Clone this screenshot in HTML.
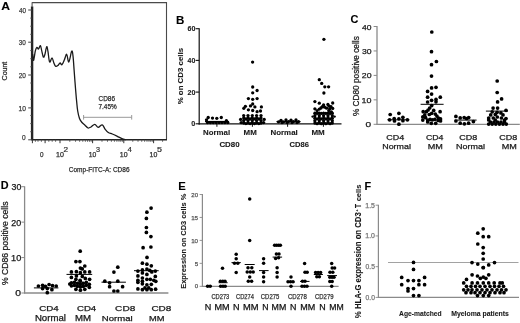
<!DOCTYPE html>
<html><head><meta charset="utf-8"><style>
html,body{margin:0;padding:0;background:#fff;}
svg{display:block;font-family:"Liberation Sans", sans-serif;will-change:transform;}
</style></head><body>
<svg width="520" height="323" viewBox="0 0 520 323">
<rect width="520" height="323" fill="#fff"/>
<text x="1.23" y="9.95" font-size="11.00" font-weight="bold" fill="#000" stroke="#000" stroke-width="0.1" textLength="8.76" lengthAdjust="spacingAndGlyphs">A</text>
<polyline points="32,2.6 166.5,2.6 166.5,139.5" fill="none" stroke="#4a4a4a" stroke-width="1.1"/>
<line x1="32.10" y1="6.50" x2="32.10" y2="140.20" stroke="#262626" stroke-width="2.4" />
<line x1="32.10" y1="2.20" x2="32.10" y2="7.00" stroke="#555" stroke-width="1.1" />
<line x1="31.50" y1="139.70" x2="167.00" y2="139.70" stroke="#222" stroke-width="1.5" />
<line x1="28.20" y1="10.00" x2="32.00" y2="10.00" stroke="#444" stroke-width="1" />
<line x1="28.20" y1="42.20" x2="32.00" y2="42.20" stroke="#444" stroke-width="1" />
<line x1="28.20" y1="75.00" x2="32.00" y2="75.00" stroke="#444" stroke-width="1" />
<line x1="28.20" y1="107.90" x2="32.00" y2="107.90" stroke="#444" stroke-width="1" />
<line x1="28.20" y1="139.80" x2="32.00" y2="139.80" stroke="#444" stroke-width="1" />
<text x="18.88" y="12.65" font-size="7.57" font-weight="normal" fill="#3a3a3a" stroke="#3a3a3a" stroke-width="0.25" textLength="7.03" lengthAdjust="spacingAndGlyphs">40</text>
<text x="18.79" y="44.85" font-size="7.57" font-weight="normal" fill="#3a3a3a" stroke="#3a3a3a" stroke-width="0.25" textLength="7.13" lengthAdjust="spacingAndGlyphs">30</text>
<text x="18.70" y="77.65" font-size="7.57" font-weight="normal" fill="#3a3a3a" stroke="#3a3a3a" stroke-width="0.25" textLength="7.22" lengthAdjust="spacingAndGlyphs">20</text>
<text x="18.52" y="110.55" font-size="7.57" font-weight="normal" fill="#3a3a3a" stroke="#3a3a3a" stroke-width="0.25" textLength="7.41" lengthAdjust="spacingAndGlyphs">10</text>
<text x="21.97" y="140.05" font-size="7.29" font-weight="normal" fill="#3a3a3a" stroke="#3a3a3a" stroke-width="0.25" textLength="3.65" lengthAdjust="spacingAndGlyphs">0</text>
<line x1="30.30" y1="131.69" x2="32.00" y2="131.69" stroke="#444" stroke-width="0.9" />
<line x1="30.30" y1="123.58" x2="32.00" y2="123.58" stroke="#444" stroke-width="0.9" />
<line x1="30.30" y1="115.46" x2="32.00" y2="115.46" stroke="#444" stroke-width="0.9" />
<line x1="30.30" y1="99.24" x2="32.00" y2="99.24" stroke="#444" stroke-width="0.9" />
<line x1="30.30" y1="91.12" x2="32.00" y2="91.12" stroke="#444" stroke-width="0.9" />
<line x1="30.30" y1="83.01" x2="32.00" y2="83.01" stroke="#444" stroke-width="0.9" />
<line x1="30.30" y1="66.79" x2="32.00" y2="66.79" stroke="#444" stroke-width="0.9" />
<line x1="30.30" y1="58.67" x2="32.00" y2="58.67" stroke="#444" stroke-width="0.9" />
<line x1="30.30" y1="50.56" x2="32.00" y2="50.56" stroke="#444" stroke-width="0.9" />
<line x1="30.30" y1="34.34" x2="32.00" y2="34.34" stroke="#444" stroke-width="0.9" />
<line x1="30.30" y1="26.23" x2="32.00" y2="26.23" stroke="#444" stroke-width="0.9" />
<line x1="30.30" y1="18.11" x2="32.00" y2="18.11" stroke="#444" stroke-width="0.9" />
<line x1="32.40" y1="139.70" x2="32.40" y2="143.20" stroke="#333" stroke-width="1" />
<line x1="45.10" y1="139.70" x2="45.10" y2="143.20" stroke="#333" stroke-width="1" />
<line x1="60.00" y1="139.70" x2="60.00" y2="143.20" stroke="#333" stroke-width="1" />
<line x1="92.60" y1="139.70" x2="92.60" y2="143.20" stroke="#333" stroke-width="1" />
<line x1="123.80" y1="139.70" x2="123.80" y2="143.20" stroke="#333" stroke-width="1" />
<line x1="153.60" y1="139.70" x2="153.60" y2="143.20" stroke="#333" stroke-width="1" />
<line x1="69.81" y1="139.70" x2="69.81" y2="141.80" stroke="#444" stroke-width="0.8" />
<line x1="75.55" y1="139.70" x2="75.55" y2="141.80" stroke="#444" stroke-width="0.8" />
<line x1="79.63" y1="139.70" x2="79.63" y2="141.80" stroke="#444" stroke-width="0.8" />
<line x1="82.79" y1="139.70" x2="82.79" y2="141.80" stroke="#444" stroke-width="0.8" />
<line x1="85.37" y1="139.70" x2="85.37" y2="141.80" stroke="#444" stroke-width="0.8" />
<line x1="87.55" y1="139.70" x2="87.55" y2="141.80" stroke="#444" stroke-width="0.8" />
<line x1="89.44" y1="139.70" x2="89.44" y2="141.80" stroke="#444" stroke-width="0.8" />
<line x1="91.11" y1="139.70" x2="91.11" y2="141.80" stroke="#444" stroke-width="0.8" />
<line x1="101.99" y1="139.70" x2="101.99" y2="141.80" stroke="#444" stroke-width="0.8" />
<line x1="107.49" y1="139.70" x2="107.49" y2="141.80" stroke="#444" stroke-width="0.8" />
<line x1="111.38" y1="139.70" x2="111.38" y2="141.80" stroke="#444" stroke-width="0.8" />
<line x1="114.41" y1="139.70" x2="114.41" y2="141.80" stroke="#444" stroke-width="0.8" />
<line x1="116.88" y1="139.70" x2="116.88" y2="141.80" stroke="#444" stroke-width="0.8" />
<line x1="118.97" y1="139.70" x2="118.97" y2="141.80" stroke="#444" stroke-width="0.8" />
<line x1="120.78" y1="139.70" x2="120.78" y2="141.80" stroke="#444" stroke-width="0.8" />
<line x1="122.37" y1="139.70" x2="122.37" y2="141.80" stroke="#444" stroke-width="0.8" />
<line x1="132.77" y1="139.70" x2="132.77" y2="141.80" stroke="#444" stroke-width="0.8" />
<line x1="138.02" y1="139.70" x2="138.02" y2="141.80" stroke="#444" stroke-width="0.8" />
<line x1="141.74" y1="139.70" x2="141.74" y2="141.80" stroke="#444" stroke-width="0.8" />
<line x1="144.63" y1="139.70" x2="144.63" y2="141.80" stroke="#444" stroke-width="0.8" />
<line x1="146.99" y1="139.70" x2="146.99" y2="141.80" stroke="#444" stroke-width="0.8" />
<line x1="148.98" y1="139.70" x2="148.98" y2="141.80" stroke="#444" stroke-width="0.8" />
<line x1="150.71" y1="139.70" x2="150.71" y2="141.80" stroke="#444" stroke-width="0.8" />
<line x1="152.24" y1="139.70" x2="152.24" y2="141.80" stroke="#444" stroke-width="0.8" />
<line x1="162.57" y1="139.70" x2="162.57" y2="141.80" stroke="#444" stroke-width="0.8" />
<line x1="35.40" y1="139.70" x2="35.40" y2="141.80" stroke="#444" stroke-width="0.8" />
<line x1="38.00" y1="139.70" x2="38.00" y2="141.80" stroke="#444" stroke-width="0.8" />
<line x1="41.40" y1="139.70" x2="41.40" y2="141.80" stroke="#444" stroke-width="0.8" />
<line x1="48.80" y1="139.70" x2="48.80" y2="141.80" stroke="#444" stroke-width="0.8" />
<line x1="52.20" y1="139.70" x2="52.20" y2="141.80" stroke="#444" stroke-width="0.8" />
<line x1="55.60" y1="139.70" x2="55.60" y2="141.80" stroke="#444" stroke-width="0.8" />
<text x="40.08" y="156.95" font-size="7.14" font-weight="normal" fill="#333" stroke="#333" stroke-width="0.25" textLength="3.54" lengthAdjust="spacingAndGlyphs">0</text>
<text x="55.99" y="156.95" font-size="6.29" font-weight="normal" fill="#333" stroke="#333" stroke-width="0.25" textLength="7.85" lengthAdjust="spacingAndGlyphs">10</text>
<text x="63.52" y="151.85" font-size="6.60" font-weight="normal" fill="#333" stroke="#333" stroke-width="0.2" textLength="4.57" lengthAdjust="spacingAndGlyphs">2</text>
<text x="88.72" y="156.95" font-size="6.29" font-weight="normal" fill="#333" stroke="#333" stroke-width="0.25" textLength="7.52" lengthAdjust="spacingAndGlyphs">10</text>
<text x="96.05" y="151.85" font-size="6.60" font-weight="normal" fill="#333" stroke="#333" stroke-width="0.2" textLength="4.04" lengthAdjust="spacingAndGlyphs">3</text>
<text x="119.80" y="156.95" font-size="6.29" font-weight="normal" fill="#333" stroke="#333" stroke-width="0.25" textLength="7.74" lengthAdjust="spacingAndGlyphs">10</text>
<text x="127.45" y="151.85" font-size="6.60" font-weight="normal" fill="#333" stroke="#333" stroke-width="0.2" textLength="4.35" lengthAdjust="spacingAndGlyphs">4</text>
<text x="149.60" y="156.95" font-size="6.29" font-weight="normal" fill="#333" stroke="#333" stroke-width="0.25" textLength="7.74" lengthAdjust="spacingAndGlyphs">10</text>
<text x="157.07" y="151.85" font-size="6.60" font-weight="normal" fill="#333" stroke="#333" stroke-width="0.2" textLength="4.97" lengthAdjust="spacingAndGlyphs">5</text>
<text x="68.80" y="172.05" font-size="7.57" font-weight="normal" fill="#2a2a2a" stroke="#2a2a2a" stroke-width="0.25" textLength="60.76" lengthAdjust="spacingAndGlyphs">Comp-FITC-A: CD86</text>
<text transform="translate(6.95,80.43) rotate(-90)" x="0" y="0" font-size="6.57" font-weight="normal" fill="#2a2a2a" stroke="#2a2a2a" stroke-width="0.25" textLength="18.75" lengthAdjust="spacingAndGlyphs">Count</text>
<path d="M32.60,54.00 C32.75,55.05 33.22,59.80 33.50,60.30 C33.78,60.80 33.98,58.62 34.30,57.00 C34.62,55.38 34.97,52.22 35.40,50.60 C35.83,48.98 36.38,47.57 36.90,47.30 C37.42,47.03 37.92,49.28 38.50,49.00 C39.08,48.72 39.87,45.33 40.40,45.60 C40.93,45.87 41.22,48.70 41.70,50.60 C42.18,52.50 42.78,56.30 43.30,57.00 C43.82,57.70 44.23,56.53 44.80,54.80 C45.37,53.07 46.17,47.12 46.70,46.60 C47.23,46.08 47.52,49.13 48.00,51.70 C48.48,54.27 48.93,60.98 49.60,62.00 C50.27,63.02 51.30,57.68 52.00,57.80 C52.70,57.92 53.20,61.30 53.80,62.70 C54.40,64.10 54.90,65.75 55.60,66.20 C56.30,66.65 57.25,65.93 58.00,65.40 C58.75,64.87 59.45,63.10 60.10,63.00 C60.75,62.90 61.20,65.28 61.90,64.80 C62.60,64.32 63.50,61.85 64.30,60.10 C65.10,58.35 65.95,53.98 66.70,54.30 C67.45,54.62 67.97,62.52 68.80,62.00 C69.63,61.48 71.00,52.22 71.70,51.20 C72.40,50.18 72.60,52.77 73.00,55.90 C73.40,59.03 73.77,65.65 74.10,70.00 C74.43,74.35 74.72,78.33 75.00,82.00 C75.28,85.67 75.52,88.67 75.80,92.00 C76.08,95.33 76.38,98.83 76.70,102.00 C77.02,105.17 77.23,108.25 77.70,111.00 C78.17,113.75 78.78,116.58 79.50,118.50 C80.22,120.42 81.08,121.38 82.00,122.50 C82.92,123.62 84.00,124.28 85.00,125.20 C86.00,126.12 87.00,127.70 88.00,128.00 C89.00,128.30 89.87,127.62 91.00,127.00 C92.13,126.38 93.60,124.23 94.80,124.30 C96.00,124.37 96.97,127.32 98.20,127.40 C99.43,127.48 101.03,124.48 102.20,124.80 C103.37,125.12 104.18,128.02 105.20,129.30 C106.22,130.58 107.12,131.72 108.30,132.50 C109.48,133.28 110.80,133.37 112.30,134.00 C113.80,134.63 115.47,135.43 117.30,136.30 C119.13,137.17 121.85,138.65 123.30,139.20 C124.75,139.75 125.55,139.53 126.00,139.60" fill="none" stroke="#1a1a1a" stroke-width="1.3" stroke-linejoin="round"/>
<line x1="83.60" y1="117.30" x2="131.70" y2="117.30" stroke="#999" stroke-width="1.0" />
<line x1="83.60" y1="115.00" x2="83.60" y2="119.60" stroke="#999" stroke-width="1.0" />
<line x1="131.70" y1="115.00" x2="131.70" y2="119.60" stroke="#999" stroke-width="1.0" />
<text x="98.50" y="100.85" font-size="7.71" font-weight="normal" fill="#2a2a2a" stroke="#2a2a2a" stroke-width="0.25" textLength="16.55" lengthAdjust="spacingAndGlyphs">CD86</text>
<text x="98.50" y="109.05" font-size="7.14" font-weight="normal" fill="#2a2a2a" stroke="#2a2a2a" stroke-width="0.25" textLength="18.20" lengthAdjust="spacingAndGlyphs">7.45%</text>
<text x="176.06" y="23.65" font-size="11.29" font-weight="bold" fill="#000" stroke="#000" stroke-width="0.1" textLength="8.34" lengthAdjust="spacingAndGlyphs">B</text>
<line x1="199.20" y1="28.20" x2="199.20" y2="124.40" stroke="#111" stroke-width="1.2" />
<line x1="198.60" y1="123.80" x2="341.50" y2="123.80" stroke="#111" stroke-width="1.3" />
<line x1="195.60" y1="123.80" x2="199.20" y2="123.80" stroke="#111" stroke-width="1.1" />
<text x="191.34" y="126.45" font-size="7.57" font-weight="bold" fill="#1a1a1a" stroke="#1a1a1a" stroke-width="0.1" textLength="4.02" lengthAdjust="spacingAndGlyphs">0</text>
<line x1="195.60" y1="92.10" x2="199.20" y2="92.10" stroke="#111" stroke-width="1.1" />
<text x="187.48" y="94.75" font-size="7.57" font-weight="bold" fill="#1a1a1a" stroke="#1a1a1a" stroke-width="0.1" textLength="7.88" lengthAdjust="spacingAndGlyphs">20</text>
<line x1="195.60" y1="60.40" x2="199.20" y2="60.40" stroke="#111" stroke-width="1.1" />
<text x="187.62" y="63.05" font-size="7.57" font-weight="bold" fill="#1a1a1a" stroke="#1a1a1a" stroke-width="0.1" textLength="7.73" lengthAdjust="spacingAndGlyphs">40</text>
<line x1="195.60" y1="28.70" x2="199.20" y2="28.70" stroke="#111" stroke-width="1.1" />
<text x="187.47" y="31.35" font-size="7.57" font-weight="bold" fill="#1a1a1a" stroke="#1a1a1a" stroke-width="0.1" textLength="7.89" lengthAdjust="spacingAndGlyphs">60</text>
<text transform="translate(183.05,104.37) rotate(-90)" x="0" y="0" font-size="7.50" font-weight="bold" fill="#1a1a1a" stroke="#1a1a1a" stroke-width="0.1" textLength="56.46" lengthAdjust="spacingAndGlyphs">% on CD3 cells</text>
<line x1="216.90" y1="123.80" x2="216.90" y2="126.80" stroke="#111" stroke-width="1.0" />
<line x1="252.40" y1="123.80" x2="252.40" y2="126.80" stroke="#111" stroke-width="1.0" />
<line x1="287.60" y1="123.80" x2="287.60" y2="126.80" stroke="#111" stroke-width="1.0" />
<line x1="323.40" y1="123.80" x2="323.40" y2="126.80" stroke="#111" stroke-width="1.0" />
<text x="203.11" y="135.45" font-size="7.22" font-weight="bold" fill="#1a1a1a" stroke="#1a1a1a" stroke-width="0.1" textLength="27.02" lengthAdjust="spacingAndGlyphs">Normal</text>
<text x="243.60" y="135.45" font-size="7.43" font-weight="bold" fill="#1a1a1a" stroke="#1a1a1a" stroke-width="0.1" textLength="13.20" lengthAdjust="spacingAndGlyphs">MM</text>
<text x="219.41" y="147.45" font-size="7.57" font-weight="bold" fill="#1a1a1a" stroke="#1a1a1a" stroke-width="0.1" textLength="20.19" lengthAdjust="spacingAndGlyphs">CD80</text>
<text x="270.50" y="135.45" font-size="7.22" font-weight="bold" fill="#1a1a1a" stroke="#1a1a1a" stroke-width="0.1" textLength="27.23" lengthAdjust="spacingAndGlyphs">Normal</text>
<text x="311.40" y="135.45" font-size="7.43" font-weight="bold" fill="#1a1a1a" stroke="#1a1a1a" stroke-width="0.1" textLength="13.31" lengthAdjust="spacingAndGlyphs">MM</text>
<text x="289.52" y="147.25" font-size="7.29" font-weight="bold" fill="#1a1a1a" stroke="#1a1a1a" stroke-width="0.1" textLength="19.43" lengthAdjust="spacingAndGlyphs">CD86</text>
<circle cx="208.20" cy="117.50" r="1.65" fill="#000"/>
<circle cx="212.50" cy="118.10" r="1.65" fill="#000"/>
<circle cx="216.80" cy="118.30" r="1.65" fill="#000"/>
<circle cx="221.30" cy="117.50" r="1.65" fill="#000"/>
<circle cx="226.40" cy="120.70" r="1.65" fill="#000"/>
<circle cx="206.50" cy="119.80" r="1.65" fill="#000"/>
<circle cx="207.50" cy="122.60" r="1.65" fill="#000"/>
<circle cx="210.40" cy="122.60" r="1.65" fill="#000"/>
<circle cx="213.30" cy="122.60" r="1.65" fill="#000"/>
<circle cx="216.20" cy="122.60" r="1.65" fill="#000"/>
<circle cx="219.10" cy="122.60" r="1.65" fill="#000"/>
<circle cx="222.00" cy="122.60" r="1.65" fill="#000"/>
<circle cx="224.90" cy="122.60" r="1.65" fill="#000"/>
<circle cx="227.80" cy="122.60" r="1.65" fill="#000"/>
<line x1="205.00" y1="121.50" x2="229.00" y2="121.50" stroke="#000" stroke-width="1.2" />
<circle cx="252.60" cy="62.10" r="1.65" fill="#000"/>
<circle cx="252.70" cy="87.00" r="1.65" fill="#000"/>
<circle cx="257.10" cy="90.50" r="1.65" fill="#000"/>
<circle cx="252.70" cy="92.80" r="1.65" fill="#000"/>
<circle cx="248.40" cy="98.60" r="1.65" fill="#000"/>
<circle cx="252.70" cy="99.30" r="1.65" fill="#000"/>
<circle cx="257.10" cy="98.60" r="1.65" fill="#000"/>
<circle cx="252.70" cy="104.00" r="1.65" fill="#000"/>
<circle cx="245.40" cy="106.30" r="1.65" fill="#000"/>
<circle cx="250.50" cy="105.90" r="1.65" fill="#000"/>
<circle cx="254.90" cy="106.90" r="1.65" fill="#000"/>
<circle cx="261.40" cy="106.90" r="1.65" fill="#000"/>
<circle cx="243.80" cy="108.30" r="1.65" fill="#000"/>
<circle cx="248.40" cy="109.80" r="1.65" fill="#000"/>
<circle cx="252.70" cy="110.50" r="1.65" fill="#000"/>
<circle cx="257.10" cy="111.70" r="1.65" fill="#000"/>
<circle cx="260.50" cy="111.00" r="1.65" fill="#000"/>
<circle cx="243.70" cy="115.60" r="1.65" fill="#000"/>
<circle cx="243.70" cy="118.10" r="1.65" fill="#000"/>
<circle cx="243.70" cy="120.60" r="1.65" fill="#000"/>
<circle cx="243.70" cy="123.00" r="1.65" fill="#000"/>
<circle cx="248.00" cy="115.60" r="1.65" fill="#000"/>
<circle cx="248.00" cy="118.10" r="1.65" fill="#000"/>
<circle cx="248.00" cy="120.60" r="1.65" fill="#000"/>
<circle cx="248.00" cy="123.00" r="1.65" fill="#000"/>
<circle cx="252.30" cy="115.60" r="1.65" fill="#000"/>
<circle cx="252.30" cy="118.10" r="1.65" fill="#000"/>
<circle cx="252.30" cy="120.60" r="1.65" fill="#000"/>
<circle cx="252.30" cy="123.00" r="1.65" fill="#000"/>
<circle cx="256.60" cy="115.60" r="1.65" fill="#000"/>
<circle cx="256.60" cy="118.10" r="1.65" fill="#000"/>
<circle cx="256.60" cy="120.60" r="1.65" fill="#000"/>
<circle cx="256.60" cy="123.00" r="1.65" fill="#000"/>
<circle cx="261.00" cy="115.60" r="1.65" fill="#000"/>
<circle cx="261.00" cy="118.10" r="1.65" fill="#000"/>
<circle cx="261.00" cy="120.60" r="1.65" fill="#000"/>
<circle cx="261.00" cy="123.00" r="1.65" fill="#000"/>
<circle cx="245.85" cy="118.90" r="1.65" fill="#000"/>
<circle cx="245.85" cy="123.60" r="1.65" fill="#000"/>
<circle cx="250.15" cy="118.90" r="1.65" fill="#000"/>
<circle cx="250.15" cy="123.60" r="1.65" fill="#000"/>
<circle cx="254.45" cy="118.90" r="1.65" fill="#000"/>
<circle cx="254.45" cy="123.60" r="1.65" fill="#000"/>
<circle cx="258.80" cy="118.90" r="1.65" fill="#000"/>
<circle cx="258.80" cy="123.60" r="1.65" fill="#000"/>
<circle cx="240.60" cy="119.40" r="1.65" fill="#000"/>
<circle cx="264.20" cy="119.40" r="1.65" fill="#000"/>
<circle cx="241.20" cy="122.60" r="1.65" fill="#000"/>
<circle cx="263.60" cy="122.60" r="1.65" fill="#000"/>
<circle cx="278.50" cy="121.80" r="1.65" fill="#000"/>
<circle cx="281.00" cy="120.30" r="1.65" fill="#000"/>
<circle cx="283.50" cy="121.80" r="1.65" fill="#000"/>
<circle cx="286.00" cy="120.00" r="1.65" fill="#000"/>
<circle cx="288.50" cy="121.60" r="1.65" fill="#000"/>
<circle cx="291.00" cy="120.20" r="1.65" fill="#000"/>
<circle cx="293.50" cy="121.60" r="1.65" fill="#000"/>
<circle cx="296.00" cy="120.00" r="1.65" fill="#000"/>
<circle cx="298.50" cy="121.60" r="1.65" fill="#000"/>
<circle cx="282.00" cy="122.60" r="1.65" fill="#000"/>
<circle cx="287.00" cy="122.60" r="1.65" fill="#000"/>
<circle cx="292.00" cy="122.60" r="1.65" fill="#000"/>
<circle cx="297.00" cy="122.60" r="1.65" fill="#000"/>
<line x1="276.50" y1="121.60" x2="300.50" y2="121.60" stroke="#000" stroke-width="1.2" />
<circle cx="323.90" cy="39.30" r="1.65" fill="#000"/>
<circle cx="319.30" cy="79.70" r="1.65" fill="#000"/>
<circle cx="321.70" cy="83.40" r="1.65" fill="#000"/>
<circle cx="324.80" cy="86.80" r="1.65" fill="#000"/>
<circle cx="328.60" cy="86.80" r="1.65" fill="#000"/>
<circle cx="323.90" cy="93.00" r="1.65" fill="#000"/>
<circle cx="314.90" cy="101.60" r="1.65" fill="#000"/>
<circle cx="319.30" cy="103.20" r="1.65" fill="#000"/>
<circle cx="323.60" cy="104.90" r="1.65" fill="#000"/>
<circle cx="322.30" cy="106.70" r="1.65" fill="#000"/>
<circle cx="321.00" cy="108.00" r="1.65" fill="#000"/>
<circle cx="319.30" cy="109.10" r="1.65" fill="#000"/>
<circle cx="317.10" cy="110.60" r="1.65" fill="#000"/>
<circle cx="314.90" cy="108.80" r="1.65" fill="#000"/>
<circle cx="327.90" cy="104.50" r="1.65" fill="#000"/>
<circle cx="332.70" cy="103.00" r="1.65" fill="#000"/>
<circle cx="329.20" cy="106.20" r="1.65" fill="#000"/>
<circle cx="331.00" cy="106.70" r="1.65" fill="#000"/>
<circle cx="326.60" cy="108.20" r="1.65" fill="#000"/>
<circle cx="329.70" cy="108.80" r="1.65" fill="#000"/>
<circle cx="332.70" cy="108.40" r="1.65" fill="#000"/>
<circle cx="328.80" cy="110.60" r="1.65" fill="#000"/>
<circle cx="331.40" cy="111.90" r="1.65" fill="#000"/>
<circle cx="324.60" cy="107.20" r="1.65" fill="#000"/>
<circle cx="314.90" cy="113.20" r="1.65" fill="#000"/>
<circle cx="314.90" cy="115.70" r="1.65" fill="#000"/>
<circle cx="314.90" cy="118.20" r="1.65" fill="#000"/>
<circle cx="314.90" cy="120.70" r="1.65" fill="#000"/>
<circle cx="314.90" cy="123.10" r="1.65" fill="#000"/>
<circle cx="319.30" cy="113.20" r="1.65" fill="#000"/>
<circle cx="319.30" cy="115.70" r="1.65" fill="#000"/>
<circle cx="319.30" cy="118.20" r="1.65" fill="#000"/>
<circle cx="319.30" cy="120.70" r="1.65" fill="#000"/>
<circle cx="319.30" cy="123.10" r="1.65" fill="#000"/>
<circle cx="323.60" cy="113.20" r="1.65" fill="#000"/>
<circle cx="323.60" cy="115.70" r="1.65" fill="#000"/>
<circle cx="323.60" cy="118.20" r="1.65" fill="#000"/>
<circle cx="323.60" cy="120.70" r="1.65" fill="#000"/>
<circle cx="323.60" cy="123.10" r="1.65" fill="#000"/>
<circle cx="328.00" cy="113.20" r="1.65" fill="#000"/>
<circle cx="328.00" cy="115.70" r="1.65" fill="#000"/>
<circle cx="328.00" cy="118.20" r="1.65" fill="#000"/>
<circle cx="328.00" cy="120.70" r="1.65" fill="#000"/>
<circle cx="328.00" cy="123.10" r="1.65" fill="#000"/>
<circle cx="332.30" cy="113.20" r="1.65" fill="#000"/>
<circle cx="332.30" cy="115.70" r="1.65" fill="#000"/>
<circle cx="332.30" cy="118.20" r="1.65" fill="#000"/>
<circle cx="332.30" cy="120.70" r="1.65" fill="#000"/>
<circle cx="332.30" cy="123.10" r="1.65" fill="#000"/>
<circle cx="317.10" cy="113.40" r="1.65" fill="#000"/>
<circle cx="317.10" cy="118.80" r="1.65" fill="#000"/>
<circle cx="317.10" cy="123.70" r="1.65" fill="#000"/>
<circle cx="321.40" cy="113.40" r="1.65" fill="#000"/>
<circle cx="321.40" cy="118.80" r="1.65" fill="#000"/>
<circle cx="321.40" cy="123.70" r="1.65" fill="#000"/>
<circle cx="325.80" cy="113.40" r="1.65" fill="#000"/>
<circle cx="325.80" cy="118.80" r="1.65" fill="#000"/>
<circle cx="325.80" cy="123.70" r="1.65" fill="#000"/>
<circle cx="330.10" cy="113.40" r="1.65" fill="#000"/>
<circle cx="330.10" cy="118.80" r="1.65" fill="#000"/>
<circle cx="330.10" cy="123.70" r="1.65" fill="#000"/>
<circle cx="312.60" cy="116.60" r="1.2" fill="#000"/>
<circle cx="334.60" cy="116.60" r="1.2" fill="#000"/>
<text x="350.58" y="22.95" font-size="10.43" font-weight="bold" fill="#000" stroke="#000" stroke-width="0.1" textLength="7.89" lengthAdjust="spacingAndGlyphs">C</text>
<line x1="377.00" y1="26.00" x2="377.00" y2="124.80" stroke="#8a8a8a" stroke-width="1.3" />
<line x1="376.50" y1="124.30" x2="519.80" y2="124.30" stroke="#8a8a8a" stroke-width="1.3" />
<line x1="373.60" y1="124.30" x2="377.00" y2="124.30" stroke="#8a8a8a" stroke-width="1.0" />
<text x="365.53" y="127.35" font-size="7.57" font-weight="normal" fill="#1a1a1a" stroke="#1a1a1a" stroke-width="0.25" textLength="5.63" lengthAdjust="spacingAndGlyphs">0</text>
<line x1="373.60" y1="99.85" x2="377.00" y2="99.85" stroke="#8a8a8a" stroke-width="1.0" />
<text x="361.55" y="102.90" font-size="7.57" font-weight="normal" fill="#1a1a1a" stroke="#1a1a1a" stroke-width="0.25" textLength="9.97" lengthAdjust="spacingAndGlyphs">10</text>
<line x1="373.60" y1="75.40" x2="377.00" y2="75.40" stroke="#8a8a8a" stroke-width="1.0" />
<text x="361.79" y="78.45" font-size="7.57" font-weight="normal" fill="#1a1a1a" stroke="#1a1a1a" stroke-width="0.25" textLength="9.72" lengthAdjust="spacingAndGlyphs">20</text>
<line x1="373.60" y1="50.95" x2="377.00" y2="50.95" stroke="#8a8a8a" stroke-width="1.0" />
<text x="361.90" y="54.00" font-size="7.57" font-weight="normal" fill="#1a1a1a" stroke="#1a1a1a" stroke-width="0.25" textLength="9.61" lengthAdjust="spacingAndGlyphs">30</text>
<line x1="373.60" y1="26.50" x2="377.00" y2="26.50" stroke="#8a8a8a" stroke-width="1.0" />
<text x="362.03" y="29.55" font-size="7.57" font-weight="normal" fill="#1a1a1a" stroke="#1a1a1a" stroke-width="0.25" textLength="9.47" lengthAdjust="spacingAndGlyphs">40</text>
<text transform="translate(358.75,116.06) rotate(-90)" x="0" y="0" font-size="8.29" font-weight="normal" fill="#1a1a1a" stroke="#1a1a1a" stroke-width="0.25" textLength="79.83" lengthAdjust="spacingAndGlyphs">% CD80 positive cells</text>
<text x="386.27" y="140.05" font-size="7.57" font-weight="normal" fill="#1a1a1a" stroke="#1a1a1a" stroke-width="0.25" textLength="17.96" lengthAdjust="spacingAndGlyphs">CD4</text>
<text x="382.30" y="148.85" font-size="7.36" font-weight="normal" fill="#1a1a1a" stroke="#1a1a1a" stroke-width="0.25" textLength="28.56" lengthAdjust="spacingAndGlyphs">Normal</text>
<text x="425.98" y="140.05" font-size="7.57" font-weight="normal" fill="#1a1a1a" stroke="#1a1a1a" stroke-width="0.25" textLength="17.54" lengthAdjust="spacingAndGlyphs">CD4</text>
<text x="427.79" y="148.85" font-size="7.57" font-weight="normal" fill="#1a1a1a" stroke="#1a1a1a" stroke-width="0.25" textLength="15.13" lengthAdjust="spacingAndGlyphs">MM</text>
<text x="459.27" y="139.75" font-size="7.43" font-weight="normal" fill="#1a1a1a" stroke="#1a1a1a" stroke-width="0.25" textLength="17.99" lengthAdjust="spacingAndGlyphs">CD8</text>
<text x="456.00" y="148.85" font-size="7.36" font-weight="normal" fill="#1a1a1a" stroke="#1a1a1a" stroke-width="0.25" textLength="28.87" lengthAdjust="spacingAndGlyphs">Normal</text>
<text x="499.37" y="139.75" font-size="7.43" font-weight="normal" fill="#1a1a1a" stroke="#1a1a1a" stroke-width="0.25" textLength="17.99" lengthAdjust="spacingAndGlyphs">CD8</text>
<text x="501.79" y="148.85" font-size="7.57" font-weight="normal" fill="#1a1a1a" stroke="#1a1a1a" stroke-width="0.25" textLength="15.13" lengthAdjust="spacingAndGlyphs">MM</text>
<circle cx="390.20" cy="114.50" r="1.85" fill="#000"/>
<circle cx="398.90" cy="113.30" r="1.85" fill="#000"/>
<circle cx="389.60" cy="119.80" r="1.85" fill="#000"/>
<circle cx="394.20" cy="118.60" r="1.85" fill="#000"/>
<circle cx="394.50" cy="121.00" r="1.85" fill="#000"/>
<circle cx="398.90" cy="118.80" r="1.85" fill="#000"/>
<circle cx="402.90" cy="117.30" r="1.85" fill="#000"/>
<circle cx="402.90" cy="120.70" r="1.85" fill="#000"/>
<circle cx="407.40" cy="119.80" r="1.85" fill="#000"/>
<circle cx="398.90" cy="124.20" r="1.85" fill="#000"/>
<line x1="387.40" y1="119.80" x2="409.40" y2="119.80" stroke="#000" stroke-width="1.0" />
<circle cx="431.80" cy="32.00" r="1.85" fill="#000"/>
<circle cx="431.50" cy="51.70" r="1.85" fill="#000"/>
<circle cx="436.40" cy="61.50" r="1.85" fill="#000"/>
<circle cx="431.50" cy="64.70" r="1.85" fill="#000"/>
<circle cx="431.50" cy="76.10" r="1.85" fill="#000"/>
<circle cx="431.60" cy="87.90" r="1.85" fill="#000"/>
<circle cx="436.00" cy="87.30" r="1.85" fill="#000"/>
<circle cx="427.60" cy="91.40" r="1.85" fill="#000"/>
<circle cx="431.60" cy="94.10" r="1.85" fill="#000"/>
<circle cx="427.60" cy="97.20" r="1.85" fill="#000"/>
<circle cx="440.30" cy="97.20" r="1.85" fill="#000"/>
<circle cx="431.60" cy="100.30" r="1.85" fill="#000"/>
<circle cx="436.00" cy="99.40" r="1.85" fill="#000"/>
<circle cx="436.00" cy="101.80" r="1.85" fill="#000"/>
<circle cx="427.60" cy="102.00" r="1.85" fill="#000"/>
<circle cx="431.70" cy="105.60" r="1.85" fill="#000"/>
<circle cx="429.70" cy="108.00" r="1.85" fill="#000"/>
<circle cx="428.10" cy="110.00" r="1.85" fill="#000"/>
<circle cx="426.40" cy="111.70" r="1.85" fill="#000"/>
<circle cx="423.20" cy="111.70" r="1.85" fill="#000"/>
<circle cx="433.70" cy="110.40" r="1.85" fill="#000"/>
<circle cx="440.10" cy="111.70" r="1.85" fill="#000"/>
<circle cx="424.80" cy="114.90" r="1.85" fill="#000"/>
<circle cx="422.80" cy="116.90" r="1.85" fill="#000"/>
<circle cx="422.80" cy="120.10" r="1.85" fill="#000"/>
<circle cx="425.60" cy="117.70" r="1.85" fill="#000"/>
<circle cx="429.30" cy="114.50" r="1.85" fill="#000"/>
<circle cx="431.70" cy="113.30" r="1.85" fill="#000"/>
<circle cx="435.30" cy="114.10" r="1.85" fill="#000"/>
<circle cx="436.90" cy="116.10" r="1.85" fill="#000"/>
<circle cx="438.50" cy="118.10" r="1.85" fill="#000"/>
<circle cx="440.50" cy="118.90" r="1.85" fill="#000"/>
<circle cx="440.50" cy="120.90" r="1.85" fill="#000"/>
<circle cx="438.10" cy="120.50" r="1.85" fill="#000"/>
<circle cx="427.70" cy="120.10" r="1.85" fill="#000"/>
<circle cx="430.10" cy="119.40" r="1.85" fill="#000"/>
<circle cx="432.50" cy="119.80" r="1.85" fill="#000"/>
<circle cx="434.90" cy="119.30" r="1.85" fill="#000"/>
<circle cx="427.70" cy="121.90" r="1.85" fill="#000"/>
<circle cx="431.30" cy="123.30" r="1.85" fill="#000"/>
<circle cx="435.70" cy="123.30" r="1.85" fill="#000"/>
<line x1="420.60" y1="104.30" x2="443.60" y2="104.30" stroke="#000" stroke-width="1.0" />
<circle cx="455.90" cy="116.40" r="1.85" fill="#000"/>
<circle cx="460.20" cy="117.90" r="1.85" fill="#000"/>
<circle cx="464.20" cy="117.60" r="1.85" fill="#000"/>
<circle cx="466.60" cy="118.50" r="1.85" fill="#000"/>
<circle cx="468.70" cy="117.60" r="1.85" fill="#000"/>
<circle cx="455.90" cy="121.00" r="1.85" fill="#000"/>
<circle cx="460.20" cy="123.20" r="1.85" fill="#000"/>
<circle cx="464.40" cy="123.80" r="1.85" fill="#000"/>
<circle cx="468.60" cy="123.20" r="1.85" fill="#000"/>
<circle cx="473.40" cy="121.60" r="1.85" fill="#000"/>
<line x1="454.60" y1="120.10" x2="476.60" y2="120.10" stroke="#000" stroke-width="1.0" />
<circle cx="497.20" cy="81.00" r="1.85" fill="#000"/>
<circle cx="497.20" cy="92.50" r="1.85" fill="#000"/>
<circle cx="501.60" cy="98.90" r="1.85" fill="#000"/>
<circle cx="497.60" cy="101.90" r="1.85" fill="#000"/>
<circle cx="493.10" cy="108.10" r="1.85" fill="#000"/>
<circle cx="497.60" cy="108.10" r="1.85" fill="#000"/>
<circle cx="506.00" cy="110.30" r="1.85" fill="#000"/>
<circle cx="492.20" cy="111.80" r="1.85" fill="#000"/>
<circle cx="497.10" cy="112.30" r="1.85" fill="#000"/>
<circle cx="500.90" cy="112.90" r="1.85" fill="#000"/>
<circle cx="490.70" cy="114.90" r="1.85" fill="#000"/>
<circle cx="495.30" cy="114.40" r="1.85" fill="#000"/>
<circle cx="503.00" cy="114.90" r="1.85" fill="#000"/>
<circle cx="488.70" cy="118.00" r="1.85" fill="#000"/>
<circle cx="493.30" cy="118.00" r="1.85" fill="#000"/>
<circle cx="497.30" cy="117.00" r="1.85" fill="#000"/>
<circle cx="501.40" cy="118.00" r="1.85" fill="#000"/>
<circle cx="506.00" cy="118.50" r="1.85" fill="#000"/>
<circle cx="488.70" cy="120.00" r="1.85" fill="#000"/>
<circle cx="495.30" cy="120.00" r="1.85" fill="#000"/>
<circle cx="504.50" cy="120.00" r="1.85" fill="#000"/>
<circle cx="490.50" cy="122.00" r="1.85" fill="#000"/>
<circle cx="494.00" cy="122.00" r="1.85" fill="#000"/>
<circle cx="497.50" cy="122.00" r="1.85" fill="#000"/>
<circle cx="501.00" cy="122.00" r="1.85" fill="#000"/>
<circle cx="504.50" cy="122.00" r="1.85" fill="#000"/>
<circle cx="488.70" cy="124.10" r="1.85" fill="#000"/>
<circle cx="492.20" cy="124.10" r="1.85" fill="#000"/>
<circle cx="495.80" cy="124.10" r="1.85" fill="#000"/>
<circle cx="499.40" cy="124.10" r="1.85" fill="#000"/>
<circle cx="503.00" cy="124.10" r="1.85" fill="#000"/>
<circle cx="506.30" cy="124.10" r="1.85" fill="#000"/>
<line x1="485.90" y1="111.10" x2="508.00" y2="111.10" stroke="#000" stroke-width="1.0" />
<text x="0.71" y="188.95" font-size="10.14" font-weight="bold" fill="#000" stroke="#000" stroke-width="0.1" textLength="7.82" lengthAdjust="spacingAndGlyphs">D</text>
<line x1="24.60" y1="186.30" x2="24.60" y2="293.50" stroke="#8a8a8a" stroke-width="1.3" />
<line x1="24.10" y1="293.00" x2="168.40" y2="293.00" stroke="#8a8a8a" stroke-width="1.3" />
<line x1="21.40" y1="293.00" x2="24.60" y2="293.00" stroke="#8a8a8a" stroke-width="1.0" />
<text x="15.23" y="296.25" font-size="8.14" font-weight="normal" fill="#1a1a1a" stroke="#1a1a1a" stroke-width="0.25" textLength="5.75" lengthAdjust="spacingAndGlyphs">0</text>
<line x1="21.40" y1="257.57" x2="24.60" y2="257.57" stroke="#8a8a8a" stroke-width="1.0" />
<text x="11.13" y="261.02" font-size="8.14" font-weight="normal" fill="#1a1a1a" stroke="#1a1a1a" stroke-width="0.25" textLength="10.20" lengthAdjust="spacingAndGlyphs">10</text>
<line x1="21.40" y1="222.13" x2="24.60" y2="222.13" stroke="#8a8a8a" stroke-width="1.0" />
<text x="11.38" y="225.58" font-size="8.14" font-weight="normal" fill="#1a1a1a" stroke="#1a1a1a" stroke-width="0.25" textLength="9.94" lengthAdjust="spacingAndGlyphs">20</text>
<line x1="21.40" y1="186.70" x2="24.60" y2="186.70" stroke="#8a8a8a" stroke-width="1.0" />
<text x="11.49" y="190.15" font-size="8.14" font-weight="normal" fill="#1a1a1a" stroke="#1a1a1a" stroke-width="0.25" textLength="9.82" lengthAdjust="spacingAndGlyphs">30</text>
<text transform="translate(7.95,284.98) rotate(-90)" x="0" y="0" font-size="8.43" font-weight="normal" fill="#1a1a1a" stroke="#1a1a1a" stroke-width="0.25" textLength="83.46" lengthAdjust="spacingAndGlyphs">% CD86 positive cells</text>
<text x="39.23" y="310.95" font-size="7.43" font-weight="normal" fill="#1a1a1a" stroke="#1a1a1a" stroke-width="0.25" textLength="19.52" lengthAdjust="spacingAndGlyphs">CD4</text>
<text x="34.94" y="321.45" font-size="8.19" font-weight="normal" fill="#1a1a1a" stroke="#1a1a1a" stroke-width="0.25" textLength="30.97" lengthAdjust="spacingAndGlyphs">Normal</text>
<text x="76.94" y="310.95" font-size="7.43" font-weight="normal" fill="#1a1a1a" stroke="#1a1a1a" stroke-width="0.25" textLength="19.31" lengthAdjust="spacingAndGlyphs">CD4</text>
<text x="75.04" y="321.25" font-size="8.14" font-weight="normal" fill="#1a1a1a" stroke="#1a1a1a" stroke-width="0.25" textLength="16.02" lengthAdjust="spacingAndGlyphs">MM</text>
<text x="115.12" y="311.25" font-size="7.71" font-weight="normal" fill="#1a1a1a" stroke="#1a1a1a" stroke-width="0.25" textLength="20.19" lengthAdjust="spacingAndGlyphs">CD8</text>
<text x="101.85" y="321.35" font-size="7.50" font-weight="normal" fill="#1a1a1a" stroke="#1a1a1a" stroke-width="0.25" textLength="30.76" lengthAdjust="spacingAndGlyphs">Normal</text>
<text x="151.42" y="311.25" font-size="7.71" font-weight="normal" fill="#1a1a1a" stroke="#1a1a1a" stroke-width="0.25" textLength="19.98" lengthAdjust="spacingAndGlyphs">CD8</text>
<text x="149.07" y="321.35" font-size="7.71" font-weight="normal" fill="#1a1a1a" stroke="#1a1a1a" stroke-width="0.25" textLength="15.46" lengthAdjust="spacingAndGlyphs">MM</text>
<circle cx="38.40" cy="286.00" r="1.85" fill="#000"/>
<circle cx="42.60" cy="285.30" r="1.85" fill="#000"/>
<circle cx="45.40" cy="286.30" r="1.85" fill="#000"/>
<circle cx="49.10" cy="284.50" r="1.85" fill="#000"/>
<circle cx="52.50" cy="285.50" r="1.85" fill="#000"/>
<circle cx="56.20" cy="286.00" r="1.85" fill="#000"/>
<circle cx="42.60" cy="288.60" r="1.85" fill="#000"/>
<circle cx="47.30" cy="288.60" r="1.85" fill="#000"/>
<circle cx="51.90" cy="289.70" r="1.85" fill="#000"/>
<circle cx="47.30" cy="292.70" r="1.85" fill="#000"/>
<line x1="33.90" y1="287.90" x2="58.40" y2="287.90" stroke="#000" stroke-width="1.0" />
<circle cx="80.20" cy="251.20" r="1.85" fill="#000"/>
<circle cx="75.90" cy="261.60" r="1.85" fill="#000"/>
<circle cx="79.90" cy="261.60" r="1.85" fill="#000"/>
<circle cx="84.80" cy="266.00" r="1.85" fill="#000"/>
<circle cx="80.40" cy="268.10" r="1.85" fill="#000"/>
<circle cx="82.30" cy="268.90" r="1.85" fill="#000"/>
<circle cx="71.40" cy="271.90" r="1.85" fill="#000"/>
<circle cx="76.40" cy="271.70" r="1.85" fill="#000"/>
<circle cx="80.40" cy="272.70" r="1.85" fill="#000"/>
<circle cx="84.80" cy="271.90" r="1.85" fill="#000"/>
<circle cx="89.60" cy="271.90" r="1.85" fill="#000"/>
<circle cx="71.40" cy="277.40" r="1.85" fill="#000"/>
<circle cx="76.40" cy="275.90" r="1.85" fill="#000"/>
<circle cx="82.30" cy="276.40" r="1.85" fill="#000"/>
<circle cx="85.30" cy="278.40" r="1.85" fill="#000"/>
<circle cx="89.60" cy="279.30" r="1.85" fill="#000"/>
<circle cx="75.90" cy="279.30" r="1.85" fill="#000"/>
<circle cx="80.10" cy="280.30" r="1.85" fill="#000"/>
<circle cx="71.40" cy="282.80" r="1.85" fill="#000"/>
<circle cx="71.40" cy="285.80" r="1.85" fill="#000"/>
<circle cx="74.40" cy="282.30" r="1.85" fill="#000"/>
<circle cx="74.40" cy="285.30" r="1.85" fill="#000"/>
<circle cx="77.40" cy="283.30" r="1.85" fill="#000"/>
<circle cx="77.40" cy="286.30" r="1.85" fill="#000"/>
<circle cx="80.40" cy="281.30" r="1.85" fill="#000"/>
<circle cx="80.40" cy="284.30" r="1.85" fill="#000"/>
<circle cx="80.40" cy="286.80" r="1.85" fill="#000"/>
<circle cx="83.30" cy="283.30" r="1.85" fill="#000"/>
<circle cx="83.30" cy="286.30" r="1.85" fill="#000"/>
<circle cx="86.30" cy="282.30" r="1.85" fill="#000"/>
<circle cx="86.30" cy="285.30" r="1.85" fill="#000"/>
<circle cx="89.30" cy="284.30" r="1.85" fill="#000"/>
<circle cx="89.30" cy="287.30" r="1.85" fill="#000"/>
<circle cx="75.90" cy="289.30" r="1.85" fill="#000"/>
<circle cx="80.40" cy="290.20" r="1.85" fill="#000"/>
<circle cx="84.80" cy="289.30" r="1.85" fill="#000"/>
<circle cx="69.80" cy="284.00" r="1.85" fill="#000"/>
<line x1="66.50" y1="274.40" x2="92.20" y2="274.40" stroke="#000" stroke-width="1.0" />
<circle cx="117.80" cy="267.20" r="1.85" fill="#000"/>
<circle cx="113.90" cy="272.10" r="1.85" fill="#000"/>
<circle cx="104.80" cy="281.20" r="1.85" fill="#000"/>
<circle cx="109.60" cy="282.80" r="1.85" fill="#000"/>
<circle cx="117.80" cy="281.20" r="1.85" fill="#000"/>
<circle cx="109.60" cy="286.70" r="1.85" fill="#000"/>
<circle cx="122.60" cy="286.70" r="1.85" fill="#000"/>
<circle cx="113.90" cy="291.00" r="1.85" fill="#000"/>
<circle cx="117.80" cy="291.00" r="1.85" fill="#000"/>
<line x1="101.50" y1="282.20" x2="125.90" y2="282.20" stroke="#000" stroke-width="1.0" />
<circle cx="151.10" cy="208.10" r="1.85" fill="#000"/>
<circle cx="146.90" cy="212.20" r="1.85" fill="#000"/>
<circle cx="146.40" cy="218.40" r="1.85" fill="#000"/>
<circle cx="146.40" cy="227.50" r="1.85" fill="#000"/>
<circle cx="146.40" cy="232.40" r="1.85" fill="#000"/>
<circle cx="150.90" cy="236.60" r="1.85" fill="#000"/>
<circle cx="143.10" cy="247.70" r="1.85" fill="#000"/>
<circle cx="150.90" cy="247.00" r="1.85" fill="#000"/>
<circle cx="147.00" cy="257.40" r="1.85" fill="#000"/>
<circle cx="142.40" cy="263.20" r="1.85" fill="#000"/>
<circle cx="146.90" cy="264.20" r="1.85" fill="#000"/>
<circle cx="151.30" cy="265.80" r="1.85" fill="#000"/>
<circle cx="137.90" cy="271.10" r="1.85" fill="#000"/>
<circle cx="142.40" cy="269.90" r="1.85" fill="#000"/>
<circle cx="146.90" cy="269.10" r="1.85" fill="#000"/>
<circle cx="149.80" cy="270.40" r="1.85" fill="#000"/>
<circle cx="151.80" cy="271.90" r="1.85" fill="#000"/>
<circle cx="155.30" cy="271.10" r="1.85" fill="#000"/>
<circle cx="142.40" cy="272.90" r="1.85" fill="#000"/>
<circle cx="146.90" cy="274.40" r="1.85" fill="#000"/>
<circle cx="137.90" cy="275.90" r="1.85" fill="#000"/>
<circle cx="155.30" cy="276.40" r="1.85" fill="#000"/>
<circle cx="142.40" cy="278.00" r="1.85" fill="#000"/>
<circle cx="146.90" cy="279.30" r="1.85" fill="#000"/>
<circle cx="150.30" cy="279.30" r="1.85" fill="#000"/>
<circle cx="153.80" cy="280.30" r="1.85" fill="#000"/>
<circle cx="137.90" cy="280.30" r="1.85" fill="#000"/>
<circle cx="137.90" cy="282.30" r="1.85" fill="#000"/>
<circle cx="142.40" cy="281.30" r="1.85" fill="#000"/>
<circle cx="142.40" cy="283.80" r="1.85" fill="#000"/>
<circle cx="155.80" cy="281.30" r="1.85" fill="#000"/>
<circle cx="146.90" cy="284.80" r="1.85" fill="#000"/>
<circle cx="151.30" cy="284.30" r="1.85" fill="#000"/>
<circle cx="137.90" cy="288.90" r="1.85" fill="#000"/>
<circle cx="142.40" cy="289.70" r="1.85" fill="#000"/>
<circle cx="144.90" cy="287.90" r="1.85" fill="#000"/>
<circle cx="146.90" cy="289.70" r="1.85" fill="#000"/>
<circle cx="148.80" cy="287.90" r="1.85" fill="#000"/>
<circle cx="151.30" cy="289.70" r="1.85" fill="#000"/>
<circle cx="155.60" cy="289.20" r="1.85" fill="#000"/>
<line x1="134.00" y1="270.70" x2="158.70" y2="270.70" stroke="#000" stroke-width="1.0" />
<text x="178.37" y="189.85" font-size="11.57" font-weight="bold" fill="#000" stroke="#000" stroke-width="0.1" textLength="7.54" lengthAdjust="spacingAndGlyphs">E</text>
<line x1="202.40" y1="194.00" x2="202.40" y2="286.80" stroke="#8a8a8a" stroke-width="1.2" />
<line x1="201.90" y1="286.30" x2="338.60" y2="286.30" stroke="#8a8a8a" stroke-width="1.2" />
<line x1="199.60" y1="286.30" x2="202.40" y2="286.30" stroke="#8a8a8a" stroke-width="0.9" />
<text x="194.79" y="288.45" font-size="6.14" font-weight="normal" fill="#555" stroke="#555" stroke-width="0.25" textLength="3.42" lengthAdjust="spacingAndGlyphs">0</text>
<line x1="199.60" y1="263.35" x2="202.40" y2="263.35" stroke="#8a8a8a" stroke-width="0.9" />
<text x="194.78" y="265.50" font-size="6.14" font-weight="normal" fill="#555" stroke="#555" stroke-width="0.25" textLength="3.45" lengthAdjust="spacingAndGlyphs">5</text>
<line x1="199.60" y1="240.40" x2="202.40" y2="240.40" stroke="#8a8a8a" stroke-width="0.9" />
<text x="191.15" y="242.55" font-size="6.14" font-weight="normal" fill="#555" stroke="#555" stroke-width="0.25" textLength="6.96" lengthAdjust="spacingAndGlyphs">10</text>
<line x1="199.60" y1="217.45" x2="202.40" y2="217.45" stroke="#8a8a8a" stroke-width="0.9" />
<text x="191.15" y="219.60" font-size="6.14" font-weight="normal" fill="#555" stroke="#555" stroke-width="0.25" textLength="6.98" lengthAdjust="spacingAndGlyphs">15</text>
<line x1="199.60" y1="194.50" x2="202.40" y2="194.50" stroke="#8a8a8a" stroke-width="0.9" />
<text x="191.32" y="196.65" font-size="6.14" font-weight="normal" fill="#555" stroke="#555" stroke-width="0.25" textLength="6.79" lengthAdjust="spacingAndGlyphs">20</text>
<text transform="translate(185.65,288.77) rotate(-90)" x="0" y="0" font-size="7.71" font-weight="bold" fill="#1a1a1a" stroke="#1a1a1a" stroke-width="0.1" textLength="95.03" lengthAdjust="spacingAndGlyphs">Expression on CD3 cells %</text>
<text x="211.44" y="298.75" font-size="6.57" font-weight="normal" fill="#333" stroke="#333" stroke-width="0.25" textLength="17.88" lengthAdjust="spacingAndGlyphs">CD273</text>
<text x="236.04" y="298.75" font-size="6.57" font-weight="normal" fill="#333" stroke="#333" stroke-width="0.25" textLength="17.90" lengthAdjust="spacingAndGlyphs">CD274</text>
<text x="260.83" y="298.75" font-size="6.57" font-weight="normal" fill="#333" stroke="#333" stroke-width="0.25" textLength="18.49" lengthAdjust="spacingAndGlyphs">CD275</text>
<text x="287.92" y="298.75" font-size="6.57" font-weight="normal" fill="#333" stroke="#333" stroke-width="0.25" textLength="18.91" lengthAdjust="spacingAndGlyphs">CD278</text>
<text x="315.03" y="298.75" font-size="6.57" font-weight="normal" fill="#333" stroke="#333" stroke-width="0.25" textLength="18.52" lengthAdjust="spacingAndGlyphs">CD279</text>
<text x="204.69" y="310.15" font-size="8.86" font-weight="normal" fill="#111" stroke="#111" stroke-width="0.25" textLength="6.52" lengthAdjust="spacingAndGlyphs">N</text>
<text x="233.09" y="310.15" font-size="8.86" font-weight="normal" fill="#111" stroke="#111" stroke-width="0.25" textLength="6.52" lengthAdjust="spacingAndGlyphs">N</text>
<text x="262.32" y="310.15" font-size="8.86" font-weight="normal" fill="#111" stroke="#111" stroke-width="0.25" textLength="6.26" lengthAdjust="spacingAndGlyphs">N</text>
<text x="290.10" y="310.15" font-size="8.86" font-weight="normal" fill="#111" stroke="#111" stroke-width="0.25" textLength="6.39" lengthAdjust="spacingAndGlyphs">N</text>
<text x="319.30" y="310.15" font-size="8.86" font-weight="normal" fill="#111" stroke="#111" stroke-width="0.25" textLength="6.39" lengthAdjust="spacingAndGlyphs">N</text>
<text x="214.49" y="310.15" font-size="8.86" font-weight="normal" fill="#111" stroke="#111" stroke-width="0.25" textLength="15.13" lengthAdjust="spacingAndGlyphs">MM</text>
<text x="242.96" y="310.15" font-size="8.86" font-weight="normal" fill="#111" stroke="#111" stroke-width="0.25" textLength="15.57" lengthAdjust="spacingAndGlyphs">MM</text>
<text x="271.61" y="310.15" font-size="8.86" font-weight="normal" fill="#111" stroke="#111" stroke-width="0.25" textLength="14.69" lengthAdjust="spacingAndGlyphs">MM</text>
<text x="300.29" y="310.15" font-size="8.86" font-weight="normal" fill="#111" stroke="#111" stroke-width="0.25" textLength="15.02" lengthAdjust="spacingAndGlyphs">MM</text>
<text x="329.32" y="310.15" font-size="8.86" font-weight="normal" fill="#111" stroke="#111" stroke-width="0.25" textLength="14.46" lengthAdjust="spacingAndGlyphs">MM</text>
<circle cx="207.60" cy="286.30" r="1.75" fill="#000"/>
<circle cx="210.20" cy="286.30" r="1.75" fill="#000"/>
<line x1="206.00" y1="286.30" x2="212.00" y2="286.30" stroke="#000" stroke-width="1.2" />
<circle cx="220.40" cy="281.20" r="1.75" fill="#000"/>
<circle cx="222.80" cy="281.20" r="1.75" fill="#000"/>
<circle cx="225.00" cy="281.20" r="1.75" fill="#000"/>
<circle cx="220.60" cy="286.30" r="1.75" fill="#000"/>
<circle cx="223.00" cy="286.30" r="1.75" fill="#000"/>
<circle cx="225.20" cy="286.30" r="1.75" fill="#000"/>
<circle cx="222.50" cy="268.20" r="1.75" fill="#000"/>
<line x1="218.60" y1="282.70" x2="227.60" y2="282.70" stroke="#000" stroke-width="1.0" />
<circle cx="236.20" cy="254.17" r="1.75" fill="#000"/>
<circle cx="236.20" cy="258.76" r="1.75" fill="#000"/>
<circle cx="234.50" cy="263.35" r="1.75" fill="#000"/>
<circle cx="237.80" cy="263.35" r="1.75" fill="#000"/>
<circle cx="236.20" cy="272.53" r="1.75" fill="#000"/>
<line x1="231.50" y1="262.60" x2="240.80" y2="262.60" stroke="#000" stroke-width="1.0" />
<circle cx="249.70" cy="199.09" r="1.75" fill="#000"/>
<circle cx="249.70" cy="240.40" r="1.75" fill="#000"/>
<circle cx="248.00" cy="267.80" r="1.75" fill="#000"/>
<circle cx="251.80" cy="267.80" r="1.75" fill="#000"/>
<circle cx="247.20" cy="272.00" r="1.75" fill="#000"/>
<circle cx="250.30" cy="272.00" r="1.75" fill="#000"/>
<circle cx="253.20" cy="272.00" r="1.75" fill="#000"/>
<circle cx="249.70" cy="277.10" r="1.75" fill="#000"/>
<circle cx="248.30" cy="281.30" r="1.75" fill="#000"/>
<circle cx="251.60" cy="281.30" r="1.75" fill="#000"/>
<line x1="244.70" y1="264.50" x2="254.70" y2="264.50" stroke="#000" stroke-width="1.0" />
<circle cx="263.60" cy="258.76" r="1.75" fill="#000"/>
<circle cx="263.60" cy="263.35" r="1.75" fill="#000"/>
<circle cx="263.60" cy="272.53" r="1.75" fill="#000"/>
<circle cx="263.60" cy="277.12" r="1.75" fill="#000"/>
<circle cx="263.60" cy="281.71" r="1.75" fill="#000"/>
<line x1="259.00" y1="270.60" x2="268.60" y2="270.60" stroke="#000" stroke-width="1.0" />
<circle cx="274.60" cy="245.20" r="1.75" fill="#000"/>
<circle cx="276.60" cy="245.20" r="1.75" fill="#000"/>
<circle cx="278.60" cy="245.20" r="1.75" fill="#000"/>
<circle cx="280.40" cy="245.20" r="1.75" fill="#000"/>
<circle cx="276.40" cy="254.00" r="1.75" fill="#000"/>
<circle cx="279.00" cy="254.00" r="1.75" fill="#000"/>
<circle cx="275.60" cy="258.40" r="1.75" fill="#000"/>
<circle cx="278.60" cy="257.80" r="1.75" fill="#000"/>
<circle cx="277.10" cy="267.80" r="1.75" fill="#000"/>
<circle cx="277.10" cy="272.40" r="1.75" fill="#000"/>
<circle cx="277.10" cy="277.10" r="1.75" fill="#000"/>
<line x1="272.60" y1="257.10" x2="282.10" y2="257.10" stroke="#000" stroke-width="1.0" />
<circle cx="291.00" cy="277.12" r="1.75" fill="#000"/>
<circle cx="288.00" cy="281.71" r="1.75" fill="#000"/>
<circle cx="290.50" cy="281.71" r="1.75" fill="#000"/>
<circle cx="293.00" cy="281.71" r="1.75" fill="#000"/>
<circle cx="291.00" cy="286.30" r="1.75" fill="#000"/>
<line x1="287.00" y1="282.00" x2="294.70" y2="282.00" stroke="#000" stroke-width="1.0" />
<circle cx="304.60" cy="263.50" r="1.75" fill="#000"/>
<circle cx="305.00" cy="272.30" r="1.75" fill="#000"/>
<circle cx="307.20" cy="272.30" r="1.75" fill="#000"/>
<circle cx="302.50" cy="281.30" r="1.75" fill="#000"/>
<circle cx="305.00" cy="281.30" r="1.75" fill="#000"/>
<circle cx="302.00" cy="286.30" r="1.75" fill="#000"/>
<circle cx="304.50" cy="286.30" r="1.75" fill="#000"/>
<circle cx="307.00" cy="286.30" r="1.75" fill="#000"/>
<line x1="300.00" y1="281.40" x2="309.50" y2="281.40" stroke="#000" stroke-width="1.0" />
<circle cx="315.60" cy="272.53" r="1.75" fill="#000"/>
<circle cx="318.10" cy="272.53" r="1.75" fill="#000"/>
<circle cx="320.60" cy="272.53" r="1.75" fill="#000"/>
<circle cx="316.80" cy="276.66" r="1.75" fill="#000"/>
<circle cx="319.40" cy="276.66" r="1.75" fill="#000"/>
<line x1="313.80" y1="274.50" x2="322.90" y2="274.50" stroke="#000" stroke-width="1.0" />
<circle cx="331.70" cy="263.50" r="1.75" fill="#000"/>
<circle cx="332.20" cy="268.00" r="1.75" fill="#000"/>
<circle cx="334.60" cy="268.00" r="1.75" fill="#000"/>
<circle cx="330.00" cy="272.30" r="1.75" fill="#000"/>
<circle cx="332.80" cy="272.30" r="1.75" fill="#000"/>
<circle cx="329.80" cy="277.20" r="1.75" fill="#000"/>
<circle cx="332.00" cy="277.20" r="1.75" fill="#000"/>
<circle cx="334.00" cy="277.20" r="1.75" fill="#000"/>
<circle cx="329.80" cy="281.50" r="1.75" fill="#000"/>
<circle cx="332.20" cy="281.50" r="1.75" fill="#000"/>
<circle cx="331.70" cy="286.30" r="1.75" fill="#000"/>
<line x1="327.20" y1="275.60" x2="337.00" y2="275.60" stroke="#000" stroke-width="1.0" />
<text x="364.40" y="189.75" font-size="11.00" font-weight="bold" fill="#000" stroke="#000" stroke-width="0.1" textLength="6.67" lengthAdjust="spacingAndGlyphs">F</text>
<line x1="378.40" y1="204.80" x2="378.40" y2="297.90" stroke="#8a8a8a" stroke-width="1.2" />
<line x1="377.90" y1="297.40" x2="519.00" y2="297.40" stroke="#8a8a8a" stroke-width="1.3" />
<line x1="375.60" y1="297.40" x2="378.40" y2="297.40" stroke="#8a8a8a" stroke-width="0.9" />
<text x="365.57" y="299.75" font-size="6.71" font-weight="normal" fill="#777" stroke="#777" stroke-width="0.25" textLength="9.37" lengthAdjust="spacingAndGlyphs">0.0</text>
<line x1="375.60" y1="266.67" x2="378.40" y2="266.67" stroke="#8a8a8a" stroke-width="0.9" />
<text x="365.57" y="269.02" font-size="6.71" font-weight="normal" fill="#777" stroke="#777" stroke-width="0.25" textLength="9.39" lengthAdjust="spacingAndGlyphs">0.5</text>
<line x1="375.60" y1="235.93" x2="378.40" y2="235.93" stroke="#8a8a8a" stroke-width="0.9" />
<text x="365.30" y="238.28" font-size="6.71" font-weight="normal" fill="#777" stroke="#777" stroke-width="0.25" textLength="9.64" lengthAdjust="spacingAndGlyphs">1.0</text>
<line x1="375.60" y1="205.20" x2="378.40" y2="205.20" stroke="#8a8a8a" stroke-width="0.9" />
<text x="365.30" y="207.55" font-size="6.71" font-weight="normal" fill="#777" stroke="#777" stroke-width="0.25" textLength="9.66" lengthAdjust="spacingAndGlyphs">1.5</text>
<text transform="translate(361.15,318.16) rotate(-90)" x="0" y="0" font-size="8.14" font-weight="bold" fill="#1a1a1a" stroke="#1a1a1a" stroke-width="0.1" textLength="105.91" lengthAdjust="spacingAndGlyphs">% HLA-G expression on CD3</text>
<text transform="translate(357.75,211.74) rotate(-90)" x="0" y="0" font-size="4.40" font-weight="bold" fill="#1a1a1a" stroke="#1a1a1a" stroke-width="0.1" textLength="2.38" lengthAdjust="spacingAndGlyphs">+</text>
<text transform="translate(361.15,208.05) rotate(-90)" x="0" y="0" font-size="8.14" font-weight="bold" fill="#1a1a1a" stroke="#1a1a1a" stroke-width="0.1" textLength="4.09" lengthAdjust="spacingAndGlyphs">T</text>
<text transform="translate(361.15,201.26) rotate(-90)" x="0" y="0" font-size="7.92" font-weight="bold" fill="#1a1a1a" stroke="#1a1a1a" stroke-width="0.1" textLength="16.54" lengthAdjust="spacingAndGlyphs">cells</text>
<line x1="388.00" y1="262.50" x2="518.50" y2="262.50" stroke="#a2a2a2" stroke-width="1.0" />
<text x="399.06" y="315.95" font-size="7.50" font-weight="bold" fill="#1a1a1a" stroke="#1a1a1a" stroke-width="0.1" textLength="42.55" lengthAdjust="spacingAndGlyphs">Age-matched</text>
<text x="451.17" y="315.95" font-size="7.50" font-weight="bold" fill="#1a1a1a" stroke="#1a1a1a" stroke-width="0.1" textLength="57.68" lengthAdjust="spacingAndGlyphs">Myeloma patients</text>
<circle cx="413.50" cy="262.40" r="1.85" fill="#000"/>
<circle cx="413.50" cy="269.40" r="1.85" fill="#000"/>
<circle cx="401.70" cy="277.40" r="1.85" fill="#000"/>
<circle cx="424.60" cy="277.40" r="1.85" fill="#000"/>
<circle cx="408.00" cy="280.60" r="1.85" fill="#000"/>
<circle cx="413.50" cy="280.60" r="1.85" fill="#000"/>
<circle cx="418.90" cy="280.60" r="1.85" fill="#000"/>
<circle cx="401.70" cy="284.70" r="1.85" fill="#000"/>
<circle cx="418.90" cy="284.70" r="1.85" fill="#000"/>
<circle cx="424.60" cy="284.70" r="1.85" fill="#000"/>
<circle cx="408.00" cy="288.60" r="1.85" fill="#000"/>
<circle cx="413.50" cy="288.60" r="1.85" fill="#000"/>
<circle cx="408.00" cy="291.00" r="1.85" fill="#000"/>
<circle cx="413.50" cy="295.60" r="1.85" fill="#000"/>
<circle cx="418.90" cy="295.60" r="1.85" fill="#000"/>
<circle cx="483.20" cy="228.80" r="1.85" fill="#000"/>
<circle cx="477.80" cy="233.20" r="1.85" fill="#000"/>
<circle cx="483.20" cy="236.70" r="1.85" fill="#000"/>
<circle cx="488.70" cy="236.70" r="1.85" fill="#000"/>
<circle cx="477.80" cy="244.00" r="1.85" fill="#000"/>
<circle cx="483.20" cy="247.60" r="1.85" fill="#000"/>
<circle cx="483.20" cy="253.30" r="1.85" fill="#000"/>
<circle cx="483.20" cy="259.00" r="1.85" fill="#000"/>
<circle cx="472.00" cy="262.60" r="1.85" fill="#000"/>
<circle cx="477.80" cy="264.10" r="1.85" fill="#000"/>
<circle cx="488.70" cy="264.90" r="1.85" fill="#000"/>
<circle cx="494.50" cy="262.60" r="1.85" fill="#000"/>
<circle cx="483.20" cy="267.70" r="1.85" fill="#000"/>
<circle cx="483.30" cy="267.50" r="1.85" fill="#000"/>
<circle cx="472.10" cy="274.80" r="1.85" fill="#000"/>
<circle cx="477.50" cy="276.00" r="1.85" fill="#000"/>
<circle cx="480.40" cy="278.30" r="1.85" fill="#000"/>
<circle cx="483.30" cy="277.10" r="1.85" fill="#000"/>
<circle cx="485.90" cy="278.30" r="1.85" fill="#000"/>
<circle cx="488.70" cy="274.80" r="1.85" fill="#000"/>
<circle cx="466.50" cy="279.40" r="1.85" fill="#000"/>
<circle cx="463.70" cy="282.90" r="1.85" fill="#000"/>
<circle cx="472.10" cy="282.90" r="1.85" fill="#000"/>
<circle cx="477.50" cy="282.90" r="1.85" fill="#000"/>
<circle cx="483.30" cy="282.90" r="1.85" fill="#000"/>
<circle cx="488.70" cy="282.90" r="1.85" fill="#000"/>
<circle cx="494.20" cy="282.90" r="1.85" fill="#000"/>
<circle cx="500.00" cy="282.90" r="1.85" fill="#000"/>
<circle cx="502.30" cy="282.90" r="1.85" fill="#000"/>
<circle cx="466.50" cy="286.30" r="1.85" fill="#000"/>
<circle cx="471.00" cy="286.30" r="1.85" fill="#000"/>
<circle cx="475.50" cy="286.30" r="1.85" fill="#000"/>
<circle cx="480.00" cy="286.30" r="1.85" fill="#000"/>
<circle cx="485.00" cy="286.30" r="1.85" fill="#000"/>
<circle cx="490.00" cy="286.30" r="1.85" fill="#000"/>
<circle cx="494.50" cy="286.30" r="1.85" fill="#000"/>
<circle cx="499.00" cy="286.30" r="1.85" fill="#000"/>
<circle cx="503.50" cy="286.30" r="1.85" fill="#000"/>
<circle cx="463.70" cy="289.80" r="1.85" fill="#000"/>
<circle cx="468.00" cy="289.80" r="1.85" fill="#000"/>
<circle cx="472.00" cy="289.80" r="1.85" fill="#000"/>
<circle cx="477.00" cy="289.80" r="1.85" fill="#000"/>
<circle cx="482.00" cy="289.80" r="1.85" fill="#000"/>
<circle cx="487.00" cy="289.80" r="1.85" fill="#000"/>
<circle cx="492.00" cy="289.80" r="1.85" fill="#000"/>
<circle cx="497.00" cy="289.80" r="1.85" fill="#000"/>
<circle cx="501.50" cy="289.80" r="1.85" fill="#000"/>
<circle cx="506.00" cy="289.80" r="1.85" fill="#000"/>
<circle cx="466.00" cy="292.70" r="1.85" fill="#000"/>
<circle cx="471.00" cy="292.70" r="1.85" fill="#000"/>
<circle cx="475.00" cy="292.70" r="1.85" fill="#000"/>
<circle cx="480.00" cy="292.70" r="1.85" fill="#000"/>
<circle cx="485.00" cy="292.70" r="1.85" fill="#000"/>
<circle cx="490.00" cy="292.70" r="1.85" fill="#000"/>
<circle cx="495.00" cy="292.70" r="1.85" fill="#000"/>
<circle cx="500.00" cy="292.70" r="1.85" fill="#000"/>
<circle cx="504.00" cy="292.70" r="1.85" fill="#000"/>
<circle cx="477.50" cy="295.60" r="1.85" fill="#000"/>
<circle cx="483.30" cy="295.60" r="1.85" fill="#000"/>
<circle cx="488.70" cy="295.60" r="1.85" fill="#000"/>
</svg>
</body></html>
